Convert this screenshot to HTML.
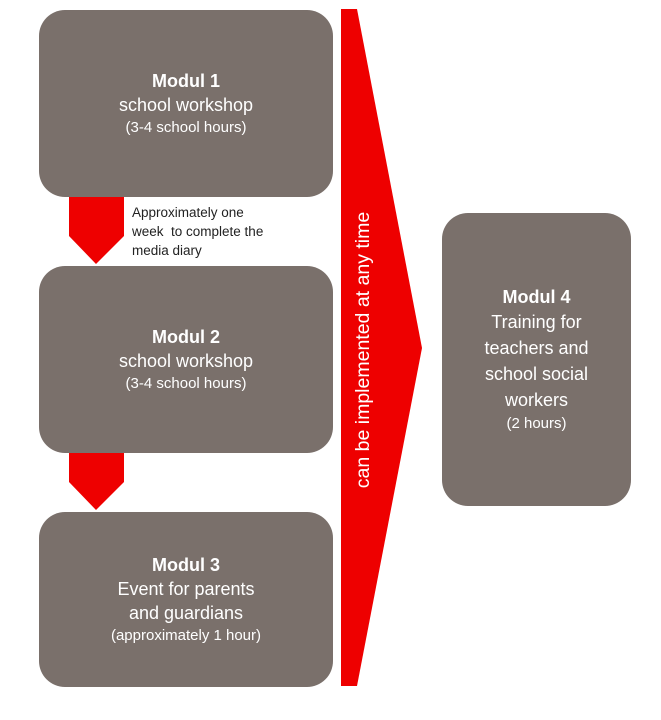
<!DOCTYPE html>
<html><head><style>
body{margin:0;width:661px;height:720px;background:#fff;position:relative;overflow:hidden;font-family:"Liberation Sans",sans-serif}
.b{position:absolute;background:#7a706b;border-radius:26px;color:#fff;text-align:center;display:flex;flex-direction:column;justify-content:center;align-items:center}
.t{font-size:18px;line-height:24px;font-weight:bold}
.m{font-size:18px;line-height:24px}
.s{font-size:15px;line-height:22px}
.n{position:absolute;left:132px;top:203px;font-size:13.5px;line-height:19px;color:#222}
</style></head><body>
<svg width="661" height="720" style="position:absolute;left:0;top:0">
<polygon points="341,9 357,9 422,348 357,686 341,686" fill="#ee0000"/>
<polygon points="69,197 124,197 124,236 96,264 69,236" fill="#ee0000"/>
<polygon points="69,453 124,453 124,482 96,510 69,482" fill="#ee0000"/>
<text x="0" y="0" transform="translate(369,350) rotate(-90)" text-anchor="middle" fill="#fff" font-family="Liberation Sans" font-size="19.5">can be implemented at any time</text>
</svg>
<div class="b" style="left:39px;top:10px;width:294px;height:187px"><div class="t">Modul 1</div><div class="m">school workshop</div><div class="s">(3-4 school hours)</div></div>
<div class="b" style="left:39px;top:266px;width:294px;height:187px"><div class="t">Modul 2</div><div class="m">school workshop</div><div class="s">(3-4 school hours)</div></div>
<div class="b" style="left:39px;top:512px;width:294px;height:175px"><div class="t">Modul 3</div><div class="m">Event for parents<br>and guardians</div><div class="s">(approximately 1 hour)</div></div>
<div class="b" style="left:442px;top:213px;width:189px;height:293px"><div class="t">Modul 4</div><div class="m" style="line-height:26px">Training for<br>teachers and<br>school social<br>workers</div><div class="s">(2 hours)</div></div>
<div class="n">Approximately one<br>week&nbsp; to complete the<br>media diary</div>
</body></html>
